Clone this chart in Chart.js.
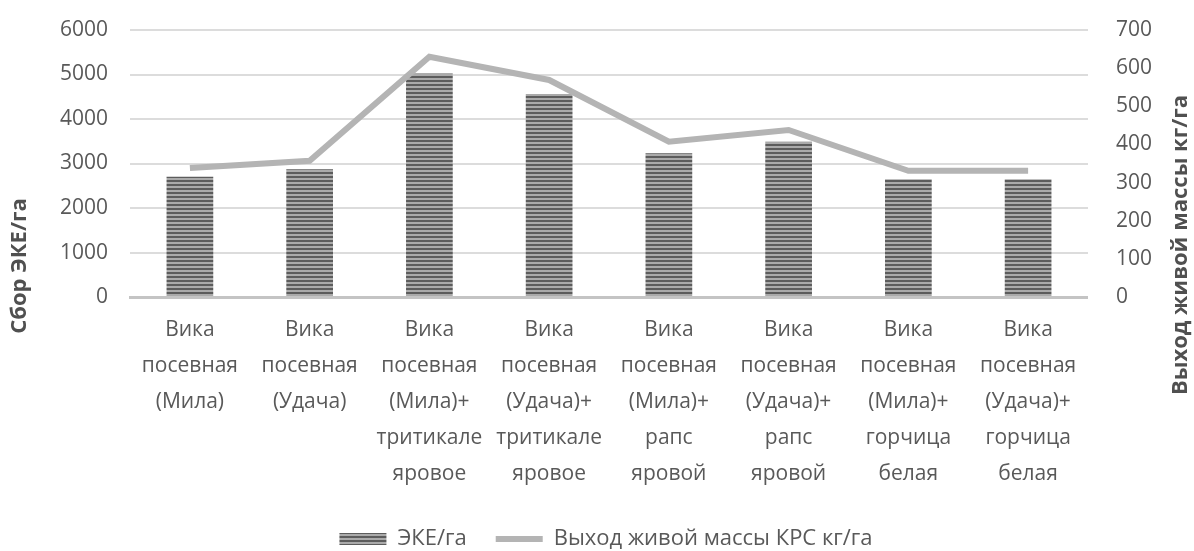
<!DOCTYPE html>
<html lang="ru">
<head>
<meta charset="UTF-8">
<title>ЭКЕ/га</title>
<script src="https://cdn.jsdelivr.net/npm/chart.js@4"></script>
<style>
    body{margin:0;background:#fff;}
    #wrap{width:1194px;height:551px;position:relative;}
</style>
</head>
<body>
<div id="wrap"><canvas id="chart"></canvas></div>
<script>
    // данные с картинки
    const categories=[
        ["Вика","посевная","(Мила)"],
        ["Вика","посевная","(Удача)"],
        ["Вика","посевная","(Мила)+","тритикале","яровое"],
        ["Вика","посевная","(Удача)+","тритикале","яровое"],
        ["Вика","посевная","(Мила)+","рапс","яровой"],
        ["Вика","посевная","(Удача)+","рапс","яровой"],
        ["Вика","посевная","(Мила)+","горчица","белая"],
        ["Вика","посевная","(Удача)+","горчица","белая"]
    ];
    const ekeValues=[2700,2870,5020,4560,3230,3490,2645,2645];
    const massValues=[338,357,630,569,407,438,331,331];

    const leftTitle="Сбор ЭКЕ/га";
    const rightTitle="Выход живой массы кг/га";
    const seriesNames=["ЭКЕ/га","Выход живой массы КРС кг/га"];

    const FONT="'Open Sans', 'DejaVu Sans', sans-serif";
    const TXT="#595959";

    // штриховка столбцов
    function stripes(){
        const c=document.createElement("canvas");
        c.width=4;c.height=4;
        const g=c.getContext("2d");
        g.fillStyle="#aaaaaa";g.fillRect(0,0,4,4);
        g.fillStyle="#5c5c5c";g.fillRect(0,0,4,2);
        return g.createPattern(c,"repeat");
    }
    const barFill=stripes();

    function drawTitle(ctx,text,x,y){
        ctx.save();
        ctx.fillStyle="#505050";
        ctx.font="bold 22px "+FONT;
        ctx.textAlign="center";
        ctx.textBaseline="middle";
        ctx.translate(x,y);
        ctx.rotate(-Math.PI/2);
        ctx.fillText(text,0,0);
        ctx.restore();
    }

    const axisTitles={
        id:"axisTitles",
        afterDraw(chart){
            drawTitle(chart.ctx,leftTitle,20,266);
            drawTitle(chart.ctx,rightTitle,1181,245);
        }
    };

    new Chart(document.getElementById("chart"),{
        data:{
            labels:categories,
            datasets:[
                {
                    type:"bar",
                    label:seriesNames[0],
                    data:ekeValues,
                    backgroundColor:barFill,
                    yAxisID:"y",
                    order:2,
                    barPercentage:0.39,
                    categoryPercentage:1
                },
                {
                    type:"line",
                    label:seriesNames[1],
                    data:massValues,
                    borderColor:"#b4b4b4",
                    backgroundColor:"#b4b4b4",
                    borderWidth:6,
                    pointRadius:0,
                    tension:0,
                    yAxisID:"y1",
                    order:1
                }
            ]
        },
        options:{
            responsive:true,
            maintainAspectRatio:false,
            animation:false,
            layout:{padding:{left:55,right:37,top:30,bottom:-9}},
            plugins:{
                tooltip:{enabled:false},
                legend:{
                    position:"bottom",
                    labels:{
                        color:TXT,
                        font:{family:FONT,size:22},
                        usePointStyle:true,
                        pointStyleWidth:47,
                        boxHeight:12,
                        padding:29,
                        sort:(a,b)=>a.datasetIndex-b.datasetIndex,
                        generateLabels(chart){
                            const items=Chart.defaults.plugins.legend.labels.generateLabels(chart);
                            items.forEach(it=>{
                                it.pointStyle=it.datasetIndex===1?"line":"rect";
                                if(it.datasetIndex===0){it.lineWidth=0;}
                            });
                            return items;
                        }
                    }
                }
            },
            scales:{
                x:{
                    grid:{display:false},
                    border:{color:"#c4c4c4",width:3},
                    ticks:{
                        color:TXT,
                        font:{family:FONT,size:21,lineHeight:1.714},
                        padding:7,
                        maxRotation:0,
                        autoSkip:false
                    }
                },
                y:{
                    position:"left",
                    min:0,max:6000,
                    ticks:{stepSize:1000,color:TXT,font:{family:FONT,size:21},padding:5,
                        callback:v=>String(v)},
                    grid:{color:"#dcdcdc",lineWidth:2,drawTicks:true,tickLength:17,tickColor:"transparent"},
                    border:{display:false}
                },
                y1:{
                    position:"right",
                    min:0,max:700,
                    ticks:{stepSize:100,color:TXT,font:{family:FONT,size:21},padding:5,
                        callback:v=>String(v)},
                    grid:{drawOnChartArea:false,drawTicks:true,tickLength:23,tickColor:"transparent"},
                    border:{display:false}
                }
            }
        },
        plugins:[axisTitles]
    });
</script>
</body>
</html>
